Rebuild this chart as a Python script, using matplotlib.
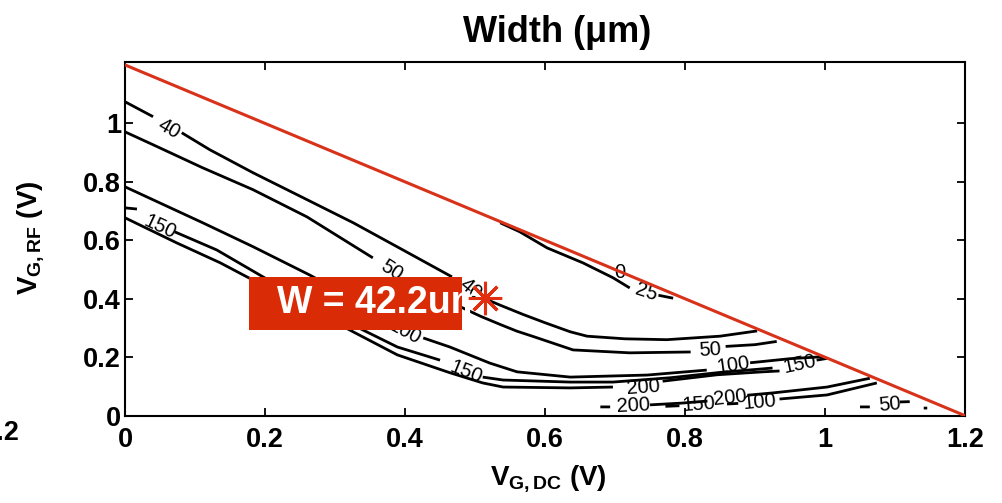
import numpy as np
import matplotlib
matplotlib.use('Agg')
import matplotlib.pyplot as plt
from matplotlib.patches import Rectangle

plt.rcParams['font.family'] = 'Liberation Sans'
plt.rcParams['mathtext.fontset'] = 'custom'
plt.rcParams['mathtext.rm'] = 'Liberation Sans'
plt.rcParams['mathtext.bf'] = 'Liberation Sans:bold'
plt.rcParams['mathtext.it'] = 'Liberation Sans:italic'

nan = np.nan

# width contours in (V_G,DC, V_G,RF); nan = gap left for the level label
w25_x = [0.536, 0.564, 0.603, 0.654, 0.697, 0.721, nan, 0.762, 0.783]
w25_y = [0.660, 0.629, 0.574, 0.523, 0.472, 0.437, nan, 0.412, 0.402]

w40_x = [0.000, 0.040, nan, 0.081, 0.121, 0.183, 0.260, 0.326, 0.397, 0.467, nan,
         0.514, 0.536, 0.569, 0.600, 0.636, 0.660, 0.714, 0.774, 0.850, 0.903]
w40_y = [1.074, 1.023, nan, 0.968, 0.910, 0.831, 0.739, 0.660, 0.567, 0.475, nan,
         0.400, 0.378, 0.346, 0.318, 0.287, 0.272, 0.263, 0.260, 0.272, 0.290]

w50_x = [0.000, 0.040, 0.111, 0.183, 0.260, 0.354, nan, 0.405, 0.450, 0.508, 0.536,
         0.560, 0.583, 0.640, 0.721, 0.808, nan, 0.858, 0.900, 0.931]
w50_y = [0.971, 0.927, 0.848, 0.773, 0.680, 0.540, nan, 0.465, 0.405, 0.340, 0.312,
         0.289, 0.271, 0.225, 0.215, 0.218, nan, 0.237, 0.243, 0.254]

w100_x = [0.000, 0.111, 0.183, 0.264, 0.329, 0.371, nan, 0.426, 0.464, 0.521, 0.560,
          0.636, 0.746, 0.831, nan, 0.893, 0.950, 0.998]
w100_y = [0.783, 0.660, 0.578, 0.481, 0.396, 0.321, nan, 0.266, 0.235, 0.180, 0.150,
          0.132, 0.139, 0.156, nan, 0.181, 0.195, 0.202]

w150_x = [0.000, 0.017, nan, 0.071, 0.131, 0.197, 0.264, 0.340, 0.389, 0.450, nan,
          0.511, 0.540, 0.636, 0.697, 0.780, 0.850, 0.925, nan, 0.988, 1.003]
w150_y = [0.711, 0.707, nan, 0.629, 0.567, 0.475, 0.386, 0.293, 0.235, 0.190, nan,
          0.132, 0.122, 0.115, 0.115, 0.130, 0.148, 0.163, nan, 0.190, 0.196]

w200_x = [0.000, 0.074, 0.136, 0.174, 0.250, 0.321, 0.389, 0.464, 0.511, 0.540,
          0.636, 0.697, nan, 0.768, 0.846, 0.911, 0.935]
w200_y = [0.677, 0.591, 0.523, 0.475, 0.386, 0.293, 0.208, 0.147, 0.112, 0.098,
          0.095, 0.098, nan, 0.118, 0.140, 0.150, 0.153]

# lower branches near V_G,RF = 0
w200b_x = [0.679, 0.693, nan, 0.750, 0.795, 0.832, nan, 0.889, 0.926, 1.003, 1.064]
w200b_y = [0.030, 0.030, nan, 0.037, 0.043, 0.050, nan, 0.070, 0.078, 0.098, 0.128]
w150b_x = [0.772, 0.792]
w150b_y = [0.032, 0.034]
w100b_x = [0.860, 0.876, nan, 0.935, 1.003, 1.074]
w100b_y = [0.040, 0.042, nan, 0.057, 0.071, 0.112]
w50b_x = [1.050, 1.064, nan, 1.107, 1.121, nan, 1.141, 1.146]
w50b_y = [0.030, 0.030, nan, 0.047, 0.048, nan, 0.026, 0.026]

# contour level labels
lab_txt = ['0', '25', '40', '40', '50', '50', '100', '100', '150', '150', '150',
           '200', '200', '200', '150', '100', '50']
lab_x = [0.707, 0.745, 0.063, 0.493, 0.381, 0.836, 0.400, 0.869, 0.050, 0.487, 0.964,
         0.741, 0.726, 0.864, 0.820, 0.907, 1.092]
lab_y = [0.491, 0.423, 0.980, 0.434, 0.496, 0.224, 0.286, 0.172, 0.646, 0.148, 0.178,
         0.098, 0.034, 0.060, 0.038, 0.046, 0.038]
lab_rot = [0, -18, -30, -40, -33, 3, -28, 8, -25, -22, 12,
           4, 3, 6, 4, 5, 5]

# feasibility boundary and chosen design point
bound_x = [0.0, 1.2]
bound_y = [1.2, 0.0]
pt_x, pt_y, pt_w = 0.514, 0.403, 42.2

xticks = [0, 0.2, 0.4, 0.6, 0.8, 1.0, 1.2]
xtick_lab = ['0', '0.2', '0.4', '0.6', '0.8', '1', '1.2']
yticks = [0, 0.2, 0.4, 0.6, 0.8, 1.0]
ytick_lab = ['0', '0.2', '0.4', '0.6', '0.8', '1']

red = '#d8321a'

fig = plt.figure(figsize=(10.02, 5.03), dpi=100)
ax = fig.add_axes([0.1248, 0.1736, 0.8383, 0.7031])

contours = [(w25_x, w25_y), (w40_x, w40_y), (w50_x, w50_y), (w100_x, w100_y),
            (w150_x, w150_y), (w200_x, w200_y), (w200b_x, w200b_y),
            (w150b_x, w150b_y), (w100b_x, w100b_y), (w50b_x, w50b_y)]
for cx, cy in contours:
    ax.plot(cx, cy, color='black', lw=2.0, solid_capstyle='butt', zorder=2)

for t, x, y, r in zip(lab_txt, lab_x, lab_y, lab_rot):
    ax.text(x, y, t, fontsize=14.5, rotation=r, ha='center', va='center',
            rotation_mode='anchor', color='black', zorder=3)

ax.plot(bound_x, bound_y, color=red, lw=2.2, zorder=4)

# annotation box for the design point
box = Rectangle((0.177, 0.293), 0.304, 0.182, facecolor='#d92b06',
                edgecolor='none', zorder=5)
ax.add_patch(box)
bt = ax.text(0.217, 0.384, 'W = %.1fum' % pt_w, color='white', fontsize=27,
             fontweight='bold', ha='left', va='center', zorder=6)
bt.set_clip_path(box)
ax.plot([pt_x], [pt_y], marker=(8, 2, 0), markersize=24, mew=2.2,
        color='#e03010', linestyle='none', zorder=7)

ax.set_xlim(0, 1.2)
ax.set_ylim(0, 1.21)
ax.set_xticks(xticks)
ax.set_xticklabels(xtick_lab)
ax.set_yticks(yticks)
ax.set_yticklabels(ytick_lab)
ax.tick_params(direction='in', top=True, right=True, length=6, width=1.3,
               labelsize=19.5)
ax.tick_params(axis='x', pad=8)
ax.tick_params(axis='y', pad=3)
for lb in ax.get_xticklabels() + ax.get_yticklabels():
    lb.set_fontweight('bold')
for sp in ax.spines.values():
    sp.set_linewidth(1.5)

fig.text(0.556, 1 - 42 / 503, 'Width (\u03bcm)', fontsize=26, fontweight='bold',
         ha='center', va='baseline')
fig.text(0.547, 1 - 485 / 503, r'$\mathbf{V_{G,DC}}$ (V)', fontsize=20,
         fontweight='bold', ha='center', va='baseline')
fig.text(37 / 1002, 0.527, r'$\mathbf{V_{G,RF}}$ (V)', fontsize=20,
         fontweight='bold', ha='center', va='baseline', rotation=90,
         rotation_mode='anchor')
# tick label of the neighbouring panel
fig.text(19 / 1002, 1 - 440 / 503, '1.2', fontsize=19.5, fontweight='bold',
         ha='right', va='baseline')

fig.savefig('out.png', dpi=100)
